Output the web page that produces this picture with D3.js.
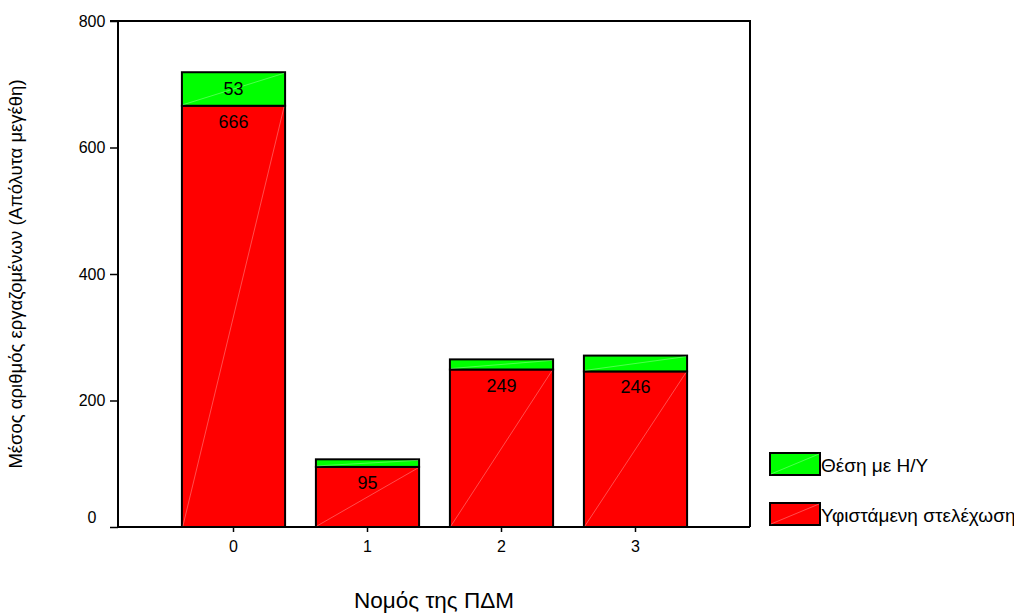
<!DOCTYPE html>
<html><head><meta charset="utf-8">
<script src="https://cdn.jsdelivr.net/npm/d3@7"></script>
<style>body{margin:0;background:#fff}svg{display:block;font-family:Arial,"Liberation Sans",sans-serif}</style>
</head><body><svg id="c" width="1014" height="615"></svg>
<script>
const categories = ["0","1","2","3"];
const existingStaff = [666, 95, 249, 246];   // Υφιστάμενη στελέχωση
const pcPositions = [53, 12, 16, 25];        // Θέση με Η/Υ
const yTicks = [0, 200, 400, 600, 800];
const seriesNames = ["Θέση με Η/Υ", "Υφιστάμενη στελέχωση"];
const seriesColors = ["#00ff00", "#ff0000"];

(function () {
const svg = d3.select("#c");
const pLeft = 118, pRight = 750, pTop = 21, pBottom = 527;
const FF = "Arial, 'Liberation Sans', sans-serif";

const y = d3.scaleLinear().domain([0, 800]).range([pBottom, pTop]);
const x = d3.scaleBand().domain(categories).range([166.5, 702.5]).paddingInner(0.23).paddingOuter(0.115);

// frame
svg.append("line").attr("x1", 110).attr("x2", pRight).attr("y1", pTop).attr("y2", pTop).attr("stroke", "#000").attr("stroke-width", 2);
svg.append("line").attr("x1", pRight).attr("x2", pRight).attr("y1", pTop - 1).attr("y2", pBottom).attr("stroke", "#000").attr("stroke-width", 2);

// y axis
const ya = svg.append("g").attr("transform", `translate(${pLeft},0)`)
  .call(d3.axisLeft(y).tickValues(yTicks).tickSize(8).tickPadding(0));
ya.select(".domain").attr("stroke-width", 2).attr("d", `M0,${pTop}V${pBottom}`);
ya.selectAll(".tick line").attr("stroke-width", 1.5);
ya.selectAll(".tick text").attr("font-size", 16).attr("font-family", FF)
  .attr("text-anchor", "middle").attr("x", -26)
  .attr("y", d => d === 0 ? -10 : 0);

// x axis
const xa = svg.append("g").attr("transform", `translate(0,${pBottom})`)
  .call(d3.axisBottom(x).tickSize(5).tickPadding(9));
xa.select(".domain").attr("stroke-width", 2).attr("d", `M${pLeft},0H${pRight}`);
xa.selectAll(".tick line").attr("stroke-width", 1.5);
xa.selectAll(".tick text").attr("font-size", 16).attr("font-family", FF);

// bars
const data = categories.map((c, i) => ({c, red: existingStaff[i], green: pcPositions[i]}));
const g = svg.append("g");
data.forEach(d => {
  const x0 = x(d.c), w = x.bandwidth();
  const segs = [
    {y0: 0, y1: d.red, color: seriesColors[1]},
    {y0: d.red, y1: d.red + d.green, color: seriesColors[0]}
  ];
  segs.forEach(s => {
    const yt = y(s.y1), yb = y(s.y0);
    g.append("rect").attr("x", x0).attr("y", yt).attr("width", w).attr("height", yb - yt)
      .attr("fill", s.color).attr("stroke", "#000").attr("stroke-width", 2);
    g.append("line").attr("x1", x0 + 1).attr("y1", yb - 1).attr("x2", x0 + w - 1).attr("y2", yt + 1)
      .attr("stroke", "#fff").attr("stroke-opacity", 0.3).attr("stroke-width", 1);
  });
  const redTop = y(d.red);
  g.append("text").attr("x", x0 + w / 2).attr("y", redTop + 22).attr("text-anchor", "middle")
    .attr("font-size", 18).text(d.red);
  const gh = y(d.red) - y(d.red + d.green);
  if (gh > 20) {
    g.append("text").attr("x", x0 + w / 2).attr("y", (y(d.red) + y(d.red + d.green)) / 2 + 6.5)
      .attr("text-anchor", "middle").attr("font-size", 18).text(d.green);
  }
});

// axis titles
svg.append("text").attr("transform", `translate(22,${(pTop + pBottom) / 2}) rotate(-90)`)
  .attr("text-anchor", "middle").attr("font-size", 18.5).text("Μέσος αριθμός εργαζομένων (Απόλυτα μεγέθη)");
svg.append("text").attr("x", (pLeft + pRight) / 2).attr("y", 608).attr("text-anchor", "middle")
  .attr("font-size", 22.5).text("Νομός της ΠΔΜ");

// legend
const leg = svg.append("g");
[[0, 453], [1, 503]].forEach(([i, ly]) => {
  leg.append("rect").attr("x", 770).attr("y", ly).attr("width", 50).attr("height", 22)
    .attr("fill", seriesColors[i]).attr("stroke", "#000").attr("stroke-width", 2);
  leg.append("line").attr("x1", 771).attr("y1", ly + 21).attr("x2", 819).attr("y2", ly + 1)
    .attr("stroke", "#fff").attr("stroke-opacity", 0.3);
  leg.append("text").attr("x", 821).attr("y", ly + 19).attr("font-size", 19).text(seriesNames[i]);
});
})();
</script></body></html>
